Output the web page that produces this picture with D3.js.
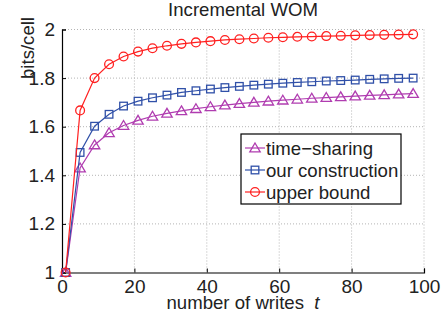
<!DOCTYPE html>
<html>
<head>
<meta charset="utf-8">
<script src="https://cdn.jsdelivr.net/npm/d3@7"></script>
<style>
  body { margin: 0; background: #fff; }
  svg text { font-family: "Liberation Sans", Arial, sans-serif; fill: #222; }
</style>
</head>
<body>
<div id="svgRoot"></div>
<script>
// writes t = 1, 5, 9, ... 97
const writes = [1, 5, 9, 13, 17, 21, 25, 29, 33, 37, 41, 45, 49, 53, 57, 61, 65, 69, 73, 77, 81, 85, 89, 93, 97];

const timeSharing = [1, 1.43, 1.525, 1.575, 1.605, 1.626, 1.643, 1.655, 1.665, 1.674, 1.682, 1.689,
  1.695, 1.700, 1.705, 1.709, 1.713, 1.717, 1.720, 1.723, 1.726, 1.729, 1.731, 1.734, 1.736];
const ourConstruction = [1, 1.494, 1.602, 1.651, 1.685, 1.705, 1.719, 1.730, 1.741, 1.748, 1.755, 1.761,
  1.766, 1.771, 1.775, 1.779, 1.782, 1.785, 1.788, 1.790, 1.792, 1.795, 1.797, 1.799, 1.800];
const upperBound = [1, 1.667, 1.800, 1.857, 1.889, 1.909, 1.923, 1.933, 1.941, 1.947, 1.952, 1.957,
  1.960, 1.963, 1.966, 1.968, 1.970, 1.971, 1.973, 1.974, 1.976, 1.977, 1.978, 1.979, 1.980];

const xTicks = [0, 20, 40, 60, 80, 100];
const yTicks = [1, 1.2, 1.4, 1.6, 1.8, 2];

const seriesNames = ["time\u2212sharing", "our construction", "upper bound"];

drawChart();

function drawChart() {
  var margin = { top: 29.5, right: 20, bottom: 43.5, left: 62 },
    width = 444 - margin.left - margin.right,
    height = 316 - margin.top - margin.bottom;

  var root = d3.select("#svgRoot")
    .append("svg")
    .attr("width", 444)
    .attr("height", 316);

  var svg = root.append("g")
    .attr("transform", "translate(" + margin.left + "," + margin.top + ")");

  var x = d3.scaleLinear().domain([0, 100]).range([0, width]);
  var y = d3.scaleLinear().domain([1, 2]).range([height, 0]);

  // dotted grid (also draws the top and right edges)
  svg.append("g")
    .selectAll("line")
    .data(xTicks.slice(1))
    .enter().append("line")
    .attr("x1", d => x(d)).attr("x2", d => x(d))
    .attr("y1", 0).attr("y2", height)
    .attr("stroke", "#b4b4b4")
    .attr("stroke-dasharray", "1,2");
  svg.append("g")
    .selectAll("line")
    .data(yTicks.slice(1))
    .enter().append("line")
    .attr("x1", 0).attr("x2", width)
    .attr("y1", d => y(d)).attr("y2", d => y(d))
    .attr("stroke", "#b4b4b4")
    .attr("stroke-dasharray", "1,2");

  // axes
  var xAxis = svg.append("g")
    .attr("transform", "translate(0," + height + ")")
    .call(d3.axisBottom(x).tickValues(xTicks).tickSize(-4).tickPadding(9).tickFormat(d3.format("d")));
  var yAxis = svg.append("g")
    .call(d3.axisLeft(y).tickValues(yTicks).tickSize(-4).tickPadding(7).tickFormat(d => d === 1 || d === 2 ? d : d.toFixed(1)));

  [xAxis, yAxis].forEach(function (a) {
    a.select(".domain").attr("stroke", "#000").attr("stroke-width", 1.2);
    a.selectAll(".tick line").attr("stroke", "#000");
    a.selectAll(".tick text")
      .style("font-size", "19px")
      .style("font-family", "Liberation Sans, Arial, sans-serif")
      .attr("fill", "#222");
  });
  xAxis.selectAll(".tick text").attr("dy", "0.6em");

  var line = d3.line()
    .x((d, i) => x(writes[i]))
    .y(d => y(d));

  var series = [
    { name: seriesNames[0], values: timeSharing, color: "#b03cb0", shape: "tri" },
    { name: seriesNames[1], values: ourConstruction, color: "#3050a8", shape: "sq" },
    { name: seriesNames[2], values: upperBound, color: "#ff2020", shape: "circ" }
  ];

  function marker(sel, d, cx, cy) {
    if (d.shape === "circ") {
      sel.append("circle").attr("cx", cx).attr("cy", cy).attr("r", 4.4);
    } else if (d.shape === "sq") {
      sel.append("rect").attr("x", cx - 3.8).attr("y", cy - 3.8).attr("width", 7.6).attr("height", 7.6);
    } else {
      sel.append("path").attr("d", "M" + cx + "," + (cy - 5) + "L" + (cx + 5.2) + "," + (cy + 3.8) + "L" + (cx - 5.2) + "," + (cy + 3.8) + "Z");
    }
  }

  series.forEach(function (s) {
    var g = svg.append("g");
    g.append("path")
      .attr("d", line(s.values))
      .attr("fill", "none")
      .attr("stroke", s.color)
      .attr("stroke-width", 1.2);
    var mg = g.append("g")
      .attr("fill", "none")
      .attr("stroke", s.color)
      .attr("stroke-width", 1.3);
    s.values.forEach(function (v, i) {
      marker(mg, s, x(writes[i]), y(v));
    });
  });

  // legend
  var legend = svg.append("g").attr("transform", "translate(" + (241 - margin.left) + "," + (134 - margin.top) + ")");
  legend.append("rect")
    .attr("width", 160).attr("height", 70)
    .attr("fill", "#fff").attr("stroke", "#000").attr("stroke-width", 1.2);
  series.forEach(function (s, i) {
    var ly = 14 + i * 22;
    var lg = legend.append("g");
    lg.append("line")
      .attr("x1", 4).attr("x2", 24).attr("y1", ly).attr("y2", ly)
      .attr("stroke", s.color).attr("stroke-width", 1.2);
    var mg = lg.append("g").attr("fill", "none").attr("stroke", s.color).attr("stroke-width", 1.3);
    marker(mg, s, 14, ly);
    lg.append("text")
      .attr("x", 25).attr("y", ly + 6.5)
      .style("font-size", "18.6px")
      .text(s.name);
  });

  // title and labels
  svg.append("text")
    .text("Incremental WOM")
    .attr("text-anchor", "middle")
    .attr("x", width / 2)
    .attr("y", -14)
    .style("font-size", "18.6px");

  svg.append("text")
    .text("bits/cell")
    .attr("text-anchor", "middle")
    .attr("transform", "translate(" + (33.5 - margin.left) + "," + (48 - margin.top) + ") rotate(-90)")
    .style("font-size", "18.6px");

  var xl = svg.append("text")
    .attr("text-anchor", "middle")
    .attr("x", width / 2)
    .attr("y", height + 36.5)
    .style("font-size", "18.6px");
  xl.append("tspan").text("number of writes\u00a0\u00a0");
  xl.append("tspan").style("font-style", "italic").text("t");
}
</script>
</body>
</html>
